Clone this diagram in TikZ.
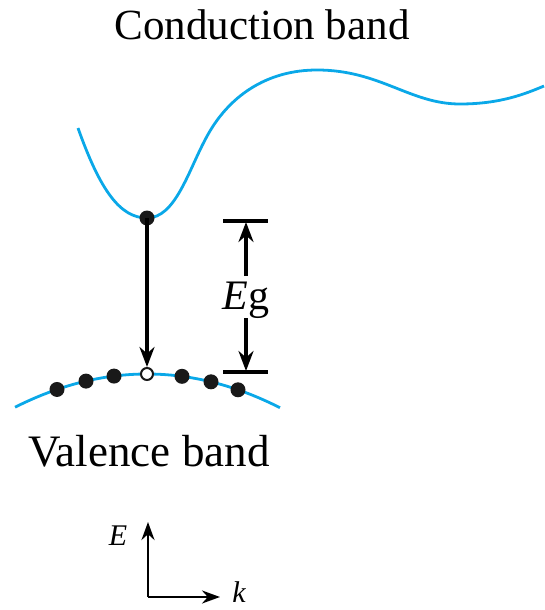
\documentclass[tikz,border=0pt]{standalone}
\usepackage{fontspec}
\setmainfont{Liberation Serif}
\usetikzlibrary{arrows.meta}
\definecolor{bandblue}{RGB}{10,168,232}
\tikzset{
  band/.style={bandblue, line width=2.8pt},
  blk/.style={black, line width=3.2pt},
  eldot/.style={circle, fill=black!90, inner sep=0pt, minimum size=15pt},
  holedot/.style={circle, draw=black!90, fill=white, line width=2pt, inner sep=0pt, minimum size=12pt},
  tip/.style={-{Stealth[length=20pt,width=15pt]}},
  lbl/.style={inner sep=0pt, anchor=base},
  axlbl/.style={font=\fontsize{30}{34}\selectfont\itshape, inner sep=0pt},
}
\begin{document}
\begin{tikzpicture}[x=1pt,y=-1pt]
\useasboundingbox (0,0) rectangle (544,610);
% conduction band
\draw[band] (78,128) .. controls (100,190) and (120,218) .. (147,218)
  .. controls (175,218) and (188,172) .. (205,140)
  .. controls (228,95) and (268,70) .. (317,70)
  .. controls (380,70) and (410,104) .. (460,104)
  .. controls (500,104) and (525,94) .. (544,86);
% valence band
\draw[band] plot[domain=15:280, samples=60, smooth] (\x, {374+0.0019*(\x-147)*(\x-147)});
% transition arrow
\node[eldot] (ctop) at (147,218) {};
\node[holedot] (hole) at (147,374) {};
\draw[blk, tip] (ctop.center) -- (hole.north);
% electrons in valence band
\foreach \xx [count=\i] in {57,86,114,182,211,238}{
  \node[eldot] (v\i) at (\xx, {374+0.0019*(\xx-147)*(\xx-147)}) {};
}
% Eg dimension
\coordinate (bt1) at (223,221);
\coordinate (bt2) at (268,221);
\coordinate (bb1) at (223,372);
\coordinate (bb2) at (268,372);
\draw[blk] (bt1) -- (bt2);
\draw[blk] (bb1) -- (bb2);
\node[lbl, font=\fontsize{42}{48}\selectfont] (eg) at (246,309) {\textit{E}g};
\coordinate (au) at (246,222);
\coordinate (ad) at (246,371);
\coordinate (as) at (246,276);
\coordinate (ae) at (246,318);
\draw[blk, tip] (as) -- (au);
\draw[blk, tip] (ae) -- (ad);
% labels
\node[lbl, font=\fontsize{43}{48}\selectfont] (cb) at (262,40) {Conduction band};
\node[lbl, font=\fontsize{45}{50}\selectfont] (vb) at (149,466) {Valence band};
% axes
\coordinate (o) at (148,597);
\coordinate (ey) at (148,522);
\coordinate (kx) at (220,597);
\draw[black, line width=2.6pt, -{Stealth[length=18pt,width=13pt]}] (o) -- (ey);
\draw[black, line width=2.6pt, -{Stealth[length=18pt,width=13pt]}] (o) -- (kx);
\node[axlbl] (elab) at (118,536) {E};
\node[axlbl] (klab) at (239,592) {k};
\end{tikzpicture}
\end{document}
